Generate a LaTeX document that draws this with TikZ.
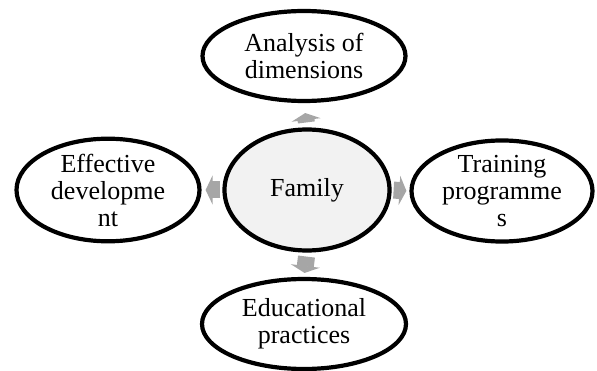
\documentclass[tikz,border=0pt]{standalone}
\usepackage{fontspec}
\setmainfont{Liberation Serif}
\usepackage{tikz}
\usetikzlibrary{arrows.meta,shapes.geometric}
\definecolor{famfill}{HTML}{F2F2F2}
\definecolor{arrgray}{HTML}{A6A6A6}
\tikzset{
  bubble/.style={ellipse,draw=black,line width=4.2pt,inner sep=0pt,align=center,
    font=\fontsize{26}{27}\selectfont},
  blockarrow/.style={arrgray,line width=17pt,-{Triangle[length=7pt,width=29pt]}}
}

\begin{document}
\begin{tikzpicture}[x=1pt,y=1pt]
  \useasboundingbox (0,0) rectangle (597,370);
  \node[bubble,fill=famfill,minimum width=165pt,minimum height=121pt] (fam) at (307,180) {Family};
  \node[bubble,fill=white,minimum width=203pt,minimum height=90pt] (ana) at (304,314) {Analysis of\\dimensions};
  \node[bubble,fill=white,minimum width=204pt,minimum height=90pt] (edu) at (304,46) {Educational\\practices};
  \node[bubble,fill=white,minimum width=183pt,minimum height=93pt] (eff) at (108,180) {Effective\\developme\\nt};
  \node[bubble,fill=white,minimum width=181pt,minimum height=98pt] (tra) at (502,179) {Training\\programme\\s};
  \draw[blockarrow,shorten <=5pt,shorten >=10pt] (fam.north) -- (ana.south);
  \draw[blockarrow,shorten <=4pt,shorten >=4pt] (fam.south) -- (edu.north);
  \draw[blockarrow,shorten <=2pt,shorten >=4pt] (fam.west) -- (eff.east);
  \draw[blockarrow,shorten <=2pt,shorten >=3pt] (fam.east) -- (tra.west);
\end{tikzpicture}
\end{document}
